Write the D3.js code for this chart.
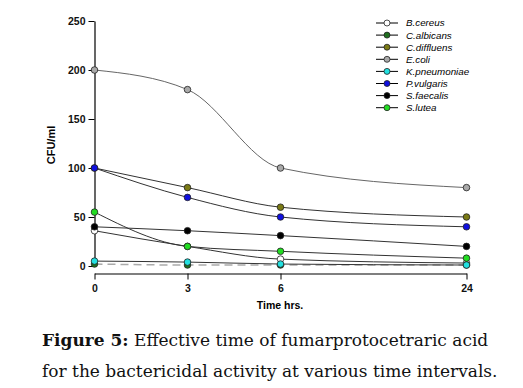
<!DOCTYPE html>
<meta charset="utf-8">
<script src="https://d3js.org/d3.v7.min.js"></script>
<style>
  body { margin: 0; background: #fff; }
</style>
<div id="my_dataviz"></div>
<script>

// time points (hours) and their position on the broken axis
var hours = [0, 3, 6, 24];
var slots = [0, 1, 2, 4];
var yTicks = [0, 50, 100, 150, 200, 250];

// CFU/ml per organism
var species = ["B.cereus", "C.albicans", "C.diffluens", "E.coli", "K.pneumoniae", "P.vulgaris", "S.faecalis", "S.lutea"];
var fills   = ["#ffffff", "#1e6e1e", "#7a7a14", "#a9a9a9", "#22e0e0", "#1010e0", "#000000", "#22dd22"];
var bCereus     = [36, 20, 7, 3];
var cAlbicans   = [2, 1, 1, 1];
var cDiffluens  = [100, 80, 60, 50];
var eColi       = [200, 180, 100, 80];
var kPneumoniae = [5, 4, 2, 1];
var pVulgaris   = [100, 70, 50, 40];
var sFaecalis   = [40, 36, 31, 20];
var sLutea      = [55, 20, 15, 8];
var values = [bCereus, cAlbicans, cDiffluens, eColi, kPneumoniae, pVulgaris, sFaecalis, sLutea];

var W = 523, H = 388;
var svg = d3.select("#my_dataviz")
  .append("svg")
    .attr("width", W)
    .attr("height", H);

var x = d3.scaleLinear().domain([0, 4]).range([94.5, 466.5]);
var y = d3.scaleLinear().domain([0, 250]).range([266, 21]);

// y axis
var yAxis = svg.append("g")
  .attr("transform", "translate(94.5,0)")
  .call(d3.axisLeft(y).tickValues(yTicks).tickSize(6).tickPadding(3).tickSizeOuter(0));
yAxis.select(".domain").attr("stroke", "#000").attr("stroke-width", 1.2);
yAxis.selectAll("text")
  .attr("font-family", "Arial, 'Liberation Sans', sans-serif")
  .attr("font-size", "10.5px")
  .attr("font-weight", "bold")
  .attr("fill", "#111");

// x axis (offset below the plot)
var xAxis = svg.append("g")
  .attr("transform", "translate(0,273.5)")
  .call(d3.axisBottom(x).tickValues(slots).tickFormat(function(d, i) { return hours[i]; })
        .tickSize(6).tickPadding(5).tickSizeOuter(0));
xAxis.select(".domain").attr("stroke", "#000").attr("stroke-width", 1.2);
xAxis.selectAll("text")
  .attr("font-family", "Arial, 'Liberation Sans', sans-serif")
  .attr("font-size", "10.5px")
  .attr("font-weight", "bold")
  .attr("fill", "#111");

// axis titles
svg.append("text")
  .attr("transform", "translate(55,145) rotate(-90)")
  .attr("text-anchor", "middle")
  .attr("font-family", "Arial, 'Liberation Sans', sans-serif")
  .attr("font-size", "11px")
  .attr("font-weight", "bold")
  .text("CFU/ml");

svg.append("text")
  .attr("x", 280)
  .attr("y", 309)
  .attr("text-anchor", "middle")
  .attr("font-family", "Arial, 'Liberation Sans', sans-serif")
  .attr("font-size", "10.5px")
  .attr("font-weight", "bold")
  .text("Time hrs.");

// curves
var line = d3.line()
  .x(function(d, i) { return x(slots[i]); })
  .y(function(d) { return y(d); })
  .curve(d3.curveMonotoneX);

svg.selectAll("path.series")
  .data(values)
  .enter()
  .append("path")
    .attr("class", "series")
    .attr("d", line)
    .attr("fill", "none")
    .attr("stroke", function(d, i) { return i == 3 ? "#666" : (i == 1 ? "#aaa" : "#333"); })
    .attr("stroke-width", function(d, i) { return i == 1 ? 1.5 : 1; })
    .attr("stroke-dasharray", function(d, i) { return i == 1 ? "8,5" : null; });

// markers
values.forEach(function(v, s) {
  svg.selectAll("circle.s" + s)
    .data(v)
    .enter()
    .append("circle")
      .attr("cx", function(d, i) { return x(slots[i]); })
      .attr("cy", function(d) { return y(d); })
      .attr("r", 3.3)
      .attr("fill", fills[s])
      .attr("stroke", "#222")
      .attr("stroke-width", 0.8);
});

// legend
var legend = svg.selectAll("g.leg")
  .data(species)
  .enter()
  .append("g")
    .attr("transform", function(d, i) { return "translate(376," + (23 + i * 12.1) + ")"; });
legend.append("line")
  .attr("x1", 0).attr("x2", 22)
  .attr("stroke", "#000").attr("stroke-width", 1);
legend.append("circle")
  .attr("cx", 11).attr("r", 3)
  .attr("fill", function(d, i) { return fills[i]; })
  .attr("stroke", "#222").attr("stroke-width", 0.8);
legend.append("text")
  .attr("x", 30)
  .attr("dy", "0.35em")
  .attr("font-family", "Arial, 'Liberation Sans', sans-serif")
  .attr("font-size", "9.8px")
  .attr("font-style", "italic")
  .text(function(d) { return d; });

// caption
var cap = svg.append("text")
  .attr("font-family", "'DejaVu Serif', 'Liberation Serif', serif")
  .attr("font-size", "17px")
  .attr("fill", "#111");
var l1 = cap.append("tspan").attr("x", 42).attr("y", 346);
l1.append("tspan").attr("font-weight", "bold").text("Figure 5:");
l1.append("tspan").text(" Effective time of fumarprotocetraric acid");
cap.append("tspan").attr("x", 42).attr("y", 377)
  .text("for the bactericidal activity at various time intervals.");

</script>
